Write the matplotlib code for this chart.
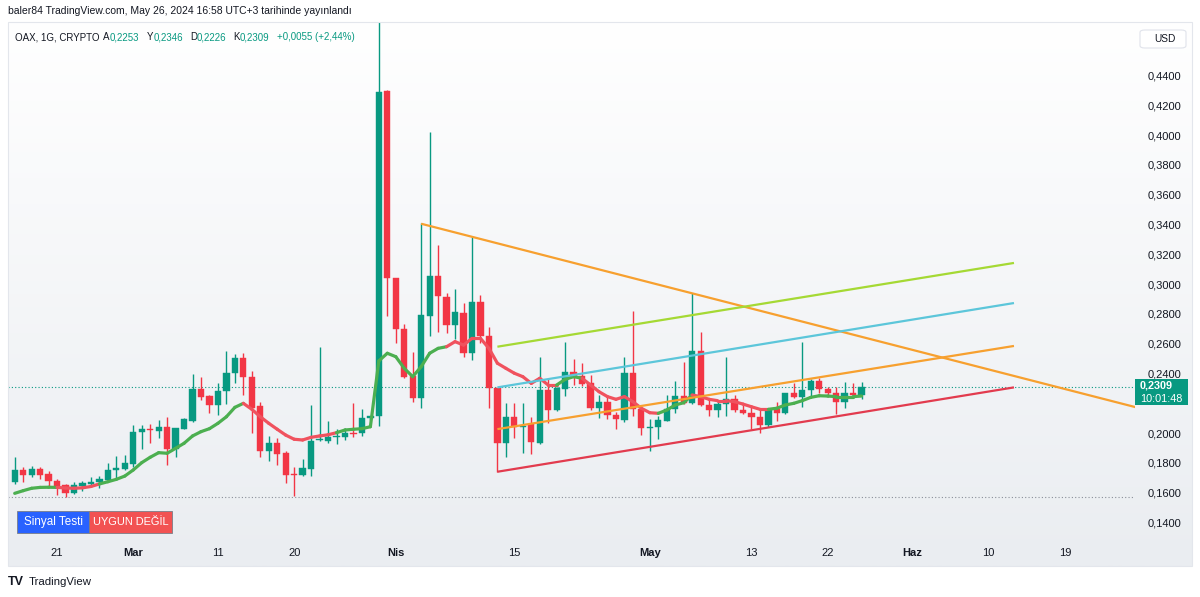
import matplotlib
matplotlib.use("Agg")
import matplotlib.pyplot as plt
import matplotlib.dates as mdates
import numpy as np
import pandas as pd
from matplotlib.collections import LineCollection
from matplotlib.patches import Rectangle, FancyBboxPatch

plt.rcParams['font.family'] = ['Liberation Sans', 'DejaVu Sans']

# ---------------- data ----------------
start_date = "2024-02-16"
end_date = "2024-05-26"

opens = [0.1670, 0.1751, 0.1717, 0.1757, 0.1724, 0.1679, 0.1652, 0.1596, 0.1647, 0.1657, 0.1674, 0.1687, 0.1751, 0.1759,
         0.1795, 0.2008, 0.2026, 0.2017, 0.2041, 0.1891, 0.2030, 0.2081, 0.2296, 0.2251, 0.2189, 0.2283, 0.2402, 0.2506,
         0.2377, 0.2180, 0.1882, 0.1936, 0.1865, 0.1722, 0.1719, 0.1759, 0.1951, 0.1949, 0.1972, 0.1972, 0.1999, 0.1999,
         0.2099, 0.2115, 0.4296,
         0.3043, 0.2697, 0.2383, 0.2238, 0.2788, 0.3055, 0.2916, 0.2726, 0.2804, 0.2536, 0.2880, 0.2652, 0.2301, 0.1932,
         0.2110, 0.2039, 0.2061, 0.1932, 0.2289, 0.2155, 0.2294, 0.2412, 0.2383, 0.2334, 0.2171, 0.2209, 0.2122, 0.2088,
         0.2402, 0.2162,
         0.2034, 0.2039, 0.2084, 0.2162, 0.2249, 0.2204, 0.2551, 0.2189, 0.2155, 0.2193, 0.2227, 0.2155, 0.2133, 0.2110,
         0.2054, 0.2162, 0.2137, 0.2267, 0.2244, 0.2289, 0.2350, 0.2294, 0.2271, 0.2211, 0.2271, 0.2253]
highs = [0.1838, 0.1771, 0.1779, 0.1775, 0.1744, 0.1692, 0.1659, 0.1674, 0.1681, 0.1704, 0.1712, 0.1797, 0.1847, 0.1855,
         0.2053, 0.2055, 0.2061, 0.2088, 0.2110, 0.2034, 0.2100, 0.2397, 0.2379, 0.2256, 0.2335, 0.2553, 0.2531, 0.2536,
         0.2419, 0.2211, 0.1981, 0.1965, 0.1882, 0.1775, 0.1824, 0.2187, 0.2576, 0.2083, 0.2026, 0.2032, 0.2204, 0.2160,
         0.2117, 0.4900, 0.4300,
         0.3043, 0.2732, 0.2547, 0.3408, 0.4019, 0.3263, 0.2938, 0.2965, 0.2871, 0.3318, 0.2927, 0.2714, 0.2301, 0.2204,
         0.2204, 0.2204, 0.2110, 0.2513, 0.2361, 0.2307, 0.2614, 0.2500, 0.2473, 0.2390, 0.2256, 0.2245, 0.2144, 0.2513,
         0.2822, 0.2162,
         0.2093, 0.2115, 0.2256, 0.2350, 0.2479, 0.2938, 0.2677, 0.2234, 0.2218, 0.2509, 0.2256, 0.2189, 0.2182, 0.2167,
         0.2167, 0.2211, 0.2267, 0.2338, 0.2614, 0.2361, 0.2368, 0.2307, 0.2307, 0.2345, 0.2334, 0.2346]
lows = [0.1659, 0.1674, 0.1704, 0.1690, 0.1645, 0.1585, 0.1569, 0.1591, 0.1614, 0.1640, 0.1630, 0.1681, 0.1697, 0.1752,
        0.1775, 0.1893, 0.1932, 0.1965, 0.1786, 0.1842, 0.2027, 0.2077, 0.2222, 0.2137, 0.2122, 0.2196, 0.2335, 0.2256,
        0.1999, 0.1838, 0.1815, 0.1786, 0.1663, 0.1578, 0.1712, 0.1712, 0.1949, 0.1935, 0.1927, 0.1954, 0.1972, 0.1981,
        0.2091, 0.2048, 0.2786,
        0.2603, 0.2368, 0.2211, 0.2167, 0.2652, 0.2681, 0.2670, 0.2630, 0.2509, 0.2491, 0.2607, 0.2167, 0.1741, 0.1838,
        0.1965, 0.1865, 0.1860, 0.1925, 0.2070, 0.2147, 0.2249, 0.2323, 0.2316, 0.2155, 0.2100, 0.2097, 0.2026, 0.2077,
        0.2115, 0.1987,
        0.1882, 0.1958, 0.2084, 0.2133, 0.2195, 0.2195, 0.2182, 0.2115, 0.2106, 0.2115, 0.2144, 0.2127, 0.2026, 0.2003,
        0.2044, 0.2083, 0.2127, 0.2234, 0.2177, 0.2240, 0.2267, 0.2240, 0.2128, 0.2167, 0.2234, 0.2226]
closes = [0.1753, 0.1717, 0.1757, 0.1717, 0.1679, 0.1647, 0.1596, 0.1650, 0.1665, 0.1674, 0.1692, 0.1751, 0.1764, 0.1797,
          0.2008, 0.2026, 0.2021, 0.2041, 0.1891, 0.2032, 0.2093, 0.2296, 0.2245, 0.2189, 0.2285, 0.2402, 0.2506, 0.2377,
          0.2167, 0.1882, 0.1936, 0.1860, 0.1719, 0.1717, 0.1764, 0.1947, 0.1954, 0.1972, 0.1981, 0.2003, 0.1994, 0.2099,
          0.2115, 0.4292, 0.3043,
          0.2697, 0.2379, 0.2234, 0.2793, 0.3055, 0.2920, 0.2726, 0.2813, 0.2536, 0.2880, 0.2652, 0.2301, 0.1932, 0.2110,
          0.2039, 0.2050, 0.1938, 0.2289, 0.2155, 0.2301, 0.2412, 0.2379, 0.2330, 0.2171, 0.2209, 0.2122, 0.2093, 0.2402,
          0.2162, 0.2036,
          0.2041, 0.2088, 0.2162, 0.2249, 0.2204, 0.2551, 0.2189, 0.2155, 0.2193, 0.2227, 0.2155, 0.2133, 0.2110, 0.2054,
          0.2162, 0.2137, 0.2267, 0.2244, 0.2289, 0.2350, 0.2294, 0.2267, 0.2211, 0.2271, 0.2254, 0.2309]
ma_values = [0.1596, 0.1614, 0.1630, 0.1636, 0.1637, 0.1636, 0.1632, 0.1630, 0.1633, 0.1642, 0.1659, 0.1674, 0.1690, 0.1712,
             0.1753, 0.1802, 0.1838, 0.1869, 0.1865, 0.1898, 0.1932, 0.1981, 0.2010, 0.2030, 0.2066, 0.2110, 0.2173, 0.2200,
             0.2160, 0.2110, 0.2066, 0.2026, 0.1987, 0.1959, 0.1954, 0.1972, 0.1981, 0.1989, 0.2003, 0.2021, 0.2026, 0.2030,
             0.2043, 0.2485, 0.2536,
             0.2513, 0.2435, 0.2379, 0.2446, 0.2536, 0.2569, 0.2580, 0.2614, 0.2591, 0.2636, 0.2636, 0.2569, 0.2469, 0.2435,
             0.2402, 0.2379, 0.2334, 0.2368, 0.2323, 0.2323, 0.2361, 0.2379, 0.2368, 0.2323, 0.2278, 0.2245, 0.2227, 0.2245,
             0.2211, 0.2167,
             0.2137, 0.2133, 0.2155, 0.2189, 0.2204, 0.2256, 0.2245, 0.2227, 0.2218, 0.2218, 0.2211, 0.2195, 0.2177, 0.2160,
             0.2160, 0.2167, 0.2189, 0.2200, 0.2218, 0.2240, 0.2251, 0.2249, 0.2245, 0.2245, 0.2245, 0.2249]
# trend of the coloured moving average: each entry = (last date of stretch, direction)
ma_trend_dates = ["2024-02-21", "2024-02-26", "2024-03-14", "2024-03-25", "2024-04-07", "2024-04-20",
                  "2024-04-23", "2024-05-02", "2024-05-06", "2024-05-15", "2024-05-26"]
ma_trend_dirs = ["up", "down", "up", "down", "up", "down", "up", "down", "up", "down", "up"]

# drawn trend lines
line_x0 = ["2024-04-04", "2024-04-13", "2024-04-13", "2024-04-13", "2024-04-13"]
line_y0 = [0.3405, 0.2580, 0.2307, 0.2027, 0.1741]
line_x1 = ["2024-06-28", "2024-06-13", "2024-06-13", "2024-06-13", "2024-06-13"]
line_y1 = [0.2165, 0.3142, 0.2873, 0.2585, 0.2307]
line_colors = ["#F7A02F", "#A5D934", "#5CC6DA", "#F7A02F", "#E23B4E"]

last_price = 0.2309
low_line = 0.1569

ytick_values = [0.14, 0.16, 0.18, 0.20, 0.24, 0.26, 0.28, 0.30, 0.32, 0.34, 0.36, 0.38, 0.40, 0.42, 0.44]
xtick_dates = ["2024-02-21", "2024-03-01", "2024-03-11", "2024-03-20", "2024-04-01", "2024-04-15",
               "2024-05-01", "2024-05-13", "2024-05-22", "2024-06-01", "2024-06-10", "2024-06-19"]
xtick_labels = ["21", "Mar", "11", "20", "Nis", "15", "May", "13", "22", "Haz", "10", "19"]
month_labels = {"Mar", "Nis", "May", "Haz"}

title_text = "baler84 TradingView.com, May 26, 2024 16:58 UTC+3 tarihinde yayınlandı"
legend_symbol = "OAX, 1G, CRYPTO"
legend_keys = ["A", "Y", "D", "K"]
legend_vals = ["0,2253", "0,2346", "0,2226", "0,2309"]
legend_change = "+0,0055 (+2,44%)"

# ---------------- figure ----------------
W, H = 1200, 597
fig = plt.figure(figsize=(W / 100, H / 100), dpi=100)
fig.patch.set_facecolor("white")

def fx(x):
    return x / W

def fy(y):
    return 1 - y / H

# panel gradient background
bg = fig.add_axes([fx(8), fy(566), fx(1192) - fx(8), fy(22) - fy(566)])
grad = np.linspace(0, 1, 256).reshape(-1, 1)
top_c = np.array([1.0, 1.0, 1.0])
bot_c = np.array([0xEA, 0xED, 0xF1]) / 255
img = top_c[None, None, :] * (1 - grad[:, :, None]) + bot_c[None, None, :] * grad[:, :, None]
bg.imshow(img, aspect="auto", extent=[0, 1, 0, 1])
bg.set_xlim(0, 1)
bg.set_ylim(0, 1)
bg.axis("off")
fig.add_artist(Rectangle((fx(8), fy(566)), fx(1192) - fx(8), fy(22) - fy(566), transform=fig.transFigure,
                         fill=False, edgecolor="#E3E6EC", linewidth=0.8, zorder=1))

ax = fig.add_axes([fx(8), fy(540), fx(1135) - fx(8), fy(23) - fy(540)])
ax.patch.set_alpha(0)
for s in ax.spines.values():
    s.set_visible(False)

d = mdates.date2num(pd.date_range(start_date, end_date, freq="D"))
o = np.array(opens); h = np.array(highs); l = np.array(lows); c = np.array(closes)
up = c >= o
col = np.where(up, "#089981", "#F23645")

ax.vlines(d, l, h, colors=col, linewidth=1.0, zorder=3)
body_bottom = np.minimum(o, c)
body_h = np.maximum(np.abs(c - o), 0.0007)
ax.bar(d, body_h, bottom=body_bottom, width=0.74, color=col, edgecolor=col, linewidth=0.3, zorder=4)

# coloured moving average
trend_nums = mdates.date2num(pd.to_datetime(ma_trend_dates))
segs, seg_cols = [], []
for i in range(len(d) - 1):
    k = int(np.searchsorted(trend_nums, d[i + 1]))
    k = min(k, len(ma_trend_dirs) - 1)
    segs.append([(d[i], ma_values[i]), (d[i + 1], ma_values[i + 1])])
    seg_cols.append("#4CAF50" if ma_trend_dirs[k] == "up" else "#F0525E")
ax.add_collection(LineCollection(segs, colors=seg_cols, linewidths=2.3, capstyle="round", zorder=6))

# trend lines
for x0, y0, x1, y1, lc in zip(line_x0, line_y0, line_x1, line_y1, line_colors):
    ax.plot(mdates.date2num(pd.to_datetime([x0, x1])), [y0, y1], color=lc, linewidth=1.6,
            solid_capstyle="butt", zorder=7)

# horizontal dotted lines
ax.axhline(last_price, color="#089981", linestyle=(0, (1, 2)), linewidth=0.8, zorder=2)
ax.axhline(low_line, color="#8A8F99", linestyle=(0, (1, 2)), linewidth=0.8, zorder=2)

x_left = mdates.date2num(pd.Timestamp("2024-02-15 05:00"))
x_right = mdates.date2num(pd.Timestamp("2024-06-27 07:00"))
ax.set_xlim(x_left, x_right)
ax.set_ylim(0.1283, 0.4752)

ax.yaxis.tick_right()
ax.set_yticks(ytick_values)
ax.set_yticklabels([f"{v:.4f}".replace(".", ",") for v in ytick_values])
ax.tick_params(axis="y", length=0, pad=9, labelsize=8, labelcolor="#131722")
ax.set_xticks(mdates.date2num(pd.to_datetime(xtick_dates)))
ax.set_xticklabels(xtick_labels)
ax.tick_params(axis="x", length=0, pad=6, labelsize=8, labelcolor="#131722")
for t in ax.get_xticklabels():
    if t.get_text() in month_labels:
        t.set_fontweight("bold")

# ---------------- texts ----------------
fig.text(fx(8), fy(11), title_text, fontsize=7.5, color="#131722", va="center", ha="left")

leg_y = fy(37)
fs_leg = 7.0
fig.text(fx(15), leg_y, legend_symbol, fontsize=fs_leg, color="#131722", va="center")
for lab, val, px in zip(legend_keys, legend_vals, [103, 147, 190, 233]):
    fig.text(fx(px), leg_y, lab, fontsize=fs_leg, color="#131722", va="center")
    fig.text(fx(px + 6.5), leg_y, val, fontsize=fs_leg, color="#089981", va="center")
fig.text(fx(277), leg_y, legend_change, fontsize=fs_leg, color="#089981", va="center")

# USD box
fig.add_artist(FancyBboxPatch((fx(1140), fy(48)), fx(46), fy(30) - fy(48),
                              boxstyle="round,pad=0,rounding_size=0.004", transform=fig.transFigure,
                              facecolor="white", edgecolor="#E0E3EB", linewidth=0.8, zorder=5))
fig.text(fx(1154), fy(39), "USD", fontsize=7.3, color="#131722", va="center", ha="left", zorder=6)

# last price label
fig.add_artist(Rectangle((fx(1135), fy(405)), fx(53), fy(379) - fy(405), transform=fig.transFigure,
                         facecolor="#089981", edgecolor="none", zorder=5))
fig.text(fx(1140), fy(385.5), "0,2309", fontsize=7.8, color="white", fontweight="bold", va="center", zorder=6)
fig.text(fx(1140), fy(398.5), "10:01:48", fontsize=7.8, color="white", va="center", zorder=6)

# signal boxes
fig.add_artist(Rectangle((fx(17), fy(533)), fx(72), fy(511) - fy(533), transform=fig.transFigure,
                         facecolor="#2962FF", edgecolor="#7A7E88", linewidth=0.6, zorder=5))
fig.add_artist(Rectangle((fx(89), fy(533)), fx(83), fy(511) - fy(533), transform=fig.transFigure,
                         facecolor="#F25252", edgecolor="#7A7E88", linewidth=0.6, zorder=5))
fig.text(fx(53), fy(522), "Sinyal Testi", fontsize=8.4, color="white", va="center", ha="center", zorder=6)
fig.text(fx(130.5), fy(522), "UYGUN DEĞİL", fontsize=7.9, color="white", va="center", ha="center", zorder=6)

# TradingView logo
fig.text(fx(8), fy(582), "TV", fontsize=9, color="#131722", fontweight="heavy", va="center", ha="left")
fig.text(fx(29), fy(582), "TradingView", fontsize=8.2, color="#131722", va="center", ha="left")

fig.savefig("out.png", dpi=100)
